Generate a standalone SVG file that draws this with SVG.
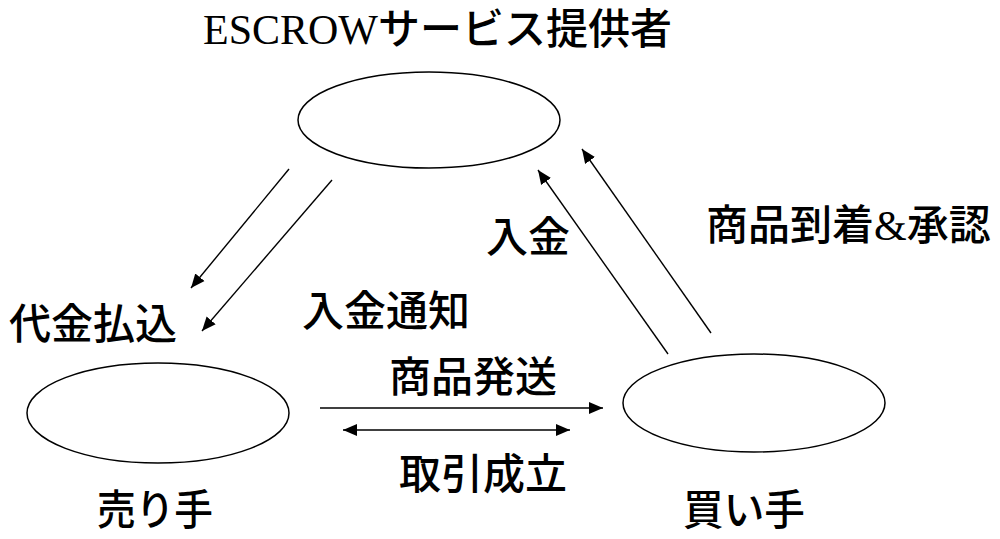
<svg xmlns="http://www.w3.org/2000/svg" width="1000" height="539" viewBox="0 0 1000 539">
<style>
.node{fill:#fff;stroke:#000;stroke-width:1.5}
.lbl{font-family:"Liberation Serif","Noto Sans CJK JP",sans-serif;font-size:42px;font-weight:500;fill:#000}
.c{stroke:#000;stroke-width:1.4;fill:none}
</style>
<defs>
<marker id="ah" markerUnits="userSpaceOnUse" markerWidth="16" markerHeight="14" refX="14" refY="6" orient="auto-start-reverse" viewBox="0 0 16 12">
<path d="M0,0 L14,6 L0,12 Z" fill="#000"/>
</marker>
</defs>
<rect width="1000" height="539" fill="#fff"/>
<g id="escrow">
<ellipse class="node" cx="429" cy="120" rx="131" ry="48"/>
<text class="lbl" x="203" y="44" font-size="41">ESCROWサービス提供者</text>
</g>
<g id="seller">
<ellipse class="node" cx="158" cy="413" rx="131" ry="50"/>
<text class="lbl" x="155" y="525" text-anchor="middle" textLength="116" lengthAdjust="spacingAndGlyphs">売り手</text>
</g>
<g id="buyer">
<ellipse class="node" cx="754" cy="403" rx="131" ry="49"/>
<text class="lbl" x="744" y="525" text-anchor="middle" textLength="122" lengthAdjust="spacingAndGlyphs">買い手</text>
</g>
<g id="connectors">
<line class="c" x1="289" y1="169" x2="191" y2="288" marker-end="url(#ah)"/>
<line class="c" x1="332" y1="180" x2="202" y2="331" marker-end="url(#ah)"/>
<line class="c" x1="668" y1="354" x2="538" y2="170" marker-end="url(#ah)"/>
<line class="c" x1="711" y1="333" x2="582" y2="149" marker-end="url(#ah)"/>
<line class="c" x1="320" y1="408" x2="603" y2="408" marker-end="url(#ah)"/>
<line class="c" x1="343" y1="430" x2="570" y2="430" marker-start="url(#ah)" marker-end="url(#ah)"/>
</g>
<g id="labels">
<text class="lbl" x="9" y="339">代金払込</text>
<text class="lbl" x="302" y="326">入金通知</text>
<text class="lbl" x="486" y="252">入金</text>
<text class="lbl" x="706" y="240">商品到着&amp;承認</text>
<text class="lbl" x="389" y="392">商品発送</text>
<text class="lbl" x="399" y="489">取引成立</text>
</g>
</svg>
